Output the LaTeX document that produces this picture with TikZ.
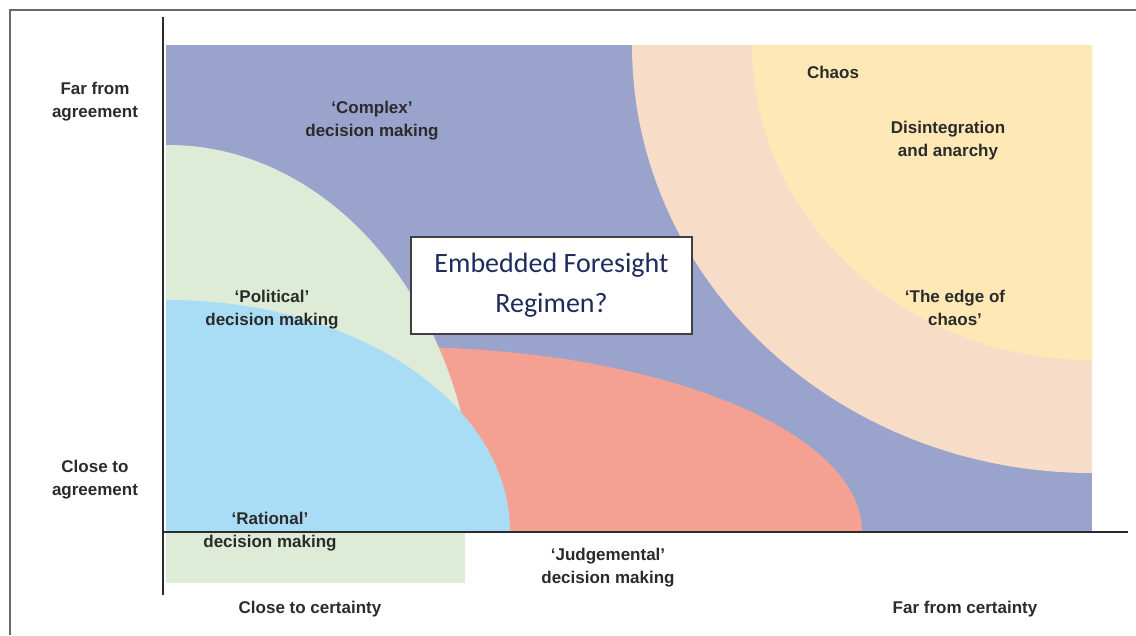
\documentclass[tikz,border=0pt]{standalone}
\usepackage{fontspec}
\setmainfont{Liberation Sans}
\newfontfamily\regimefont{Carlito}
\definecolor{complexblue}{HTML}{9AA3CB}
\definecolor{edgepeach}{HTML}{F7DCC7}
\definecolor{chaosyellow}{HTML}{FEE8B6}
\definecolor{judgered}{HTML}{F4A193}
\definecolor{politicgreen}{HTML}{DDEBD7}
\definecolor{rationalblue}{HTML}{A9DDF6}
\definecolor{labelgray}{HTML}{2B2B2B}
\definecolor{regimenavy}{HTML}{1F2B5C}
\definecolor{framegray}{HTML}{6A6A6A}

\begin{document}
\begin{tikzpicture}[x=1pt,y=-1pt,
    lab/.style={font=\bfseries\fontsize{17}{23}\selectfont,text=labelgray,align=center,inner sep=0pt},
    regimebox/.style={draw=black!75,line width=1.2pt,fill=white,align=center,
        minimum width=281pt,minimum height=97pt,text=regimenavy,
        font=\regimefont\fontsize{28}{40}\selectfont}]
            \useasboundingbox[fill=white] (0,0) rectangle (1136,635);
            \draw[framegray,line width=1.6pt] (10,635)--(10,10)--(1136,10);

            \fill[complexblue] (166,45) rectangle (1092,532);
            \begin{scope}
                \clip (166,45) rectangle (1092,532);
                \fill[edgepeach] (1092,45) ellipse [x radius=460, y radius=428];
                \fill[chaosyellow] (1092,45) ellipse [x radius=340, y radius=315];
                \fill[judgered] (400,532) ellipse [x radius=462, y radius=185];
                \fill[politicgreen] (168,532) ellipse [x radius=308, y radius=387];
                \fill[rationalblue] (168,532) ellipse [x radius=342, y radius=232];
            \end{scope}
            \fill[politicgreen] (166,532) rectangle (465,583);

            \draw[labelgray,line width=1.8pt] (163,17)--(163,595);
            \draw[labelgray,line width=1.8pt] (163,532)--(1128,532);

            \node[regimebox] (regime) at (551.5,285.5) {Embedded Foresight\\Regimen?};

            \node[lab] (faragree) at (95,102) {Far from\\agreement};
            \node[lab] (closeagree) at (95,480) {Close to\\agreement};
            \node[lab] (complex) at (372,121) {‘Complex’\\decision making};
            \node[lab] (political) at (272,310) {‘Political’\\decision making};
            \node[lab] (rational) at (270,532) {‘Rational’\\decision making};
            \node[lab] (judge) at (608,568) {‘Judgemental’\\decision making};
            \node[lab] (closecert) at (310,609) {Close to certainty};
            \node[lab] (farcert) at (965,609) {Far from certainty};
            \node[lab] (chaos) at (833,72) {Chaos};
            \node[lab] (anarchy) at (948,141) {Disintegration\\and anarchy};
            \node[lab] (edge) at (955,308) {‘The edge of\\chaos’};
        \end{tikzpicture}
\end{document}
